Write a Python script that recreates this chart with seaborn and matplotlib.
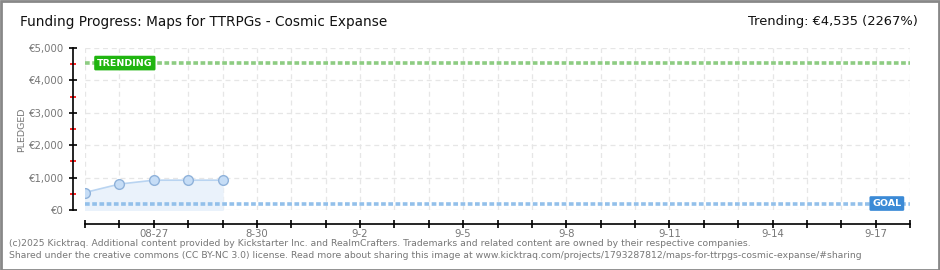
import matplotlib
matplotlib.use("Agg")
import matplotlib.pyplot as plt
import matplotlib.dates as mdates
from matplotlib.ticker import MultipleLocator, FuncFormatter
import seaborn as sns
import pandas as pd
import numpy as np

# ---- data ----
dates = ["2025-08-25", "2025-08-26", "2025-08-27", "2025-08-28", "2025-08-29"]
pledged = [540, 800, 920, 920, 920]
goal = 200
trending = 4535
x_start = "2025-08-25"
x_end = "2025-09-18"
tick_label_dates = ["2025-08-27", "2025-08-30", "2025-09-02", "2025-09-05", "2025-09-08",
                    "2025-09-11", "2025-09-14", "2025-09-17"]
tick_labels = ["08-27", "8-30", "9-2", "9-5", "9-8", "9-11", "9-14", "9-17"]
title = "Funding Progress: Maps for TTRPGs - Cosmic Expanse"
trend_text = "Trending: €4,535 (2267%)"
footer1 = "(c)2025 Kicktraq. Additional content provided by Kickstarter Inc. and RealmCrafters. Trademarks and related content are owned by their respective companies."
footer2 = "Shared under the creative commons (CC BY-NC 3.0) license. Read more about sharing this image at www.kicktraq.com/projects/1793287812/maps-for-ttrpgs-cosmic-expanse/#sharing"

df = pd.DataFrame({"date": pd.to_datetime(dates), "pledged": pledged})

sns.set_theme(style="white")
plt.rcParams["font.family"] = ["DejaVu Sans"]

W, H = 940, 270
fig = plt.figure(figsize=(W / 100, H / 100), dpi=100)
ax = fig.add_axes([85 / W, (H - 210) / H, (910 - 85) / W, (210 - 48) / H])

# grid
ax.set_xlim(pd.Timestamp(x_start), pd.Timestamp(x_end))
ax.set_ylim(0, 5000)
ax.xaxis.set_major_locator(mdates.DayLocator())
ax.yaxis.set_major_locator(MultipleLocator(1000))
ax.yaxis.set_minor_locator(MultipleLocator(500))
ax.grid(True, which="major", color="#e6e6e6", linestyle=(0, (4, 3)), linewidth=0.9)

# fill + line
ax.fill_between(df["date"], df["pledged"], 0, color="#eaf2fb", zorder=1)
sns.lineplot(data=df, x="date", y="pledged", ax=ax, color="#b9d4f1", linewidth=1.2,
             marker="o", markersize=7, markerfacecolor="#c6ddf6",
             markeredgecolor="#8fb2da", markeredgewidth=1, zorder=4)

# goal / trending lines
ax.axhline(goal, color="#93c0ea", linestyle=(0, (1.3, 0.7)), linewidth=2.6, zorder=3)
ax.axhline(trending, color="#8dcc82", linestyle=(0, (1.3, 0.7)), linewidth=2.6, zorder=3)

x0 = mdates.date2num(pd.Timestamp(x_start))
ax.text(x0 + 0.35, trending, "TRENDING", color="white", fontsize=6.8, fontweight="bold",
        va="center", ha="left", zorder=6,
        bbox=dict(boxstyle="round,pad=0.3,rounding_size=0.15", fc="#20b510", ec="none"))
x1 = mdates.date2num(pd.Timestamp(x_end))
ax.text(x1 - 0.25, goal, "GOAL", color="white", fontsize=6.8, fontweight="bold",
        va="center", ha="right", zorder=6,
        bbox=dict(boxstyle="round,pad=0.3,rounding_size=0.15", fc="#3b8ad6", ec="none"))

# spines
for s in ["top", "right"]:
    ax.spines[s].set_visible(False)
ax.spines["left"].set_position(("outward", 9))
ax.spines["bottom"].set_position(("outward", 10))
for s in ["left", "bottom"]:
    ax.spines[s].set_color("black")
    ax.spines[s].set_linewidth(1.2)

ax.tick_params(axis="y", which="major", direction="inout", length=6, width=1.2,
               color="black", labelsize=7.3, labelcolor="#777777", pad=3, left=True)
ax.tick_params(axis="y", which="minor", direction="inout", length=4, width=1.2,
               color="red", left=True)
ax.tick_params(axis="x", which="major", direction="inout", length=6, width=1.2,
               color="black", labelsize=7.3, labelcolor="#777777", pad=1, bottom=True)
ax.yaxis.set_major_formatter(FuncFormatter(lambda v, p: f"€{int(v):,}"))

tick_nums = [mdates.date2num(pd.Timestamp(d)) for d in tick_label_dates]
lab_map = dict(zip(tick_nums, tick_labels))
ax.xaxis.set_major_formatter(FuncFormatter(lambda v, p: lab_map.get(round(v), "")))

ax.set_xlabel("")
ax.set_ylabel("")
fig.text(22 / W, 1 - 130 / H, "PLEDGED", fontsize=6.8, color="#777777", rotation=90,
         ha="center", va="center")

# titles
fig.text(20 / W, 1 - 22 / H, title, fontsize=9.8, color="#111111", va="center", ha="left")
fig.text(918 / W, 1 - 22 / H, trend_text, fontsize=9.4, color="#111111", va="center",
         ha="right")
fig.text(9 / W, 1 - 243 / H, footer1, fontsize=6.65, color="#777777", va="center", ha="left")
fig.text(9 / W, 1 - 256 / H, footer2, fontsize=6.65, color="#777777", va="center", ha="left")

# frame
fig.patches.append(plt.Rectangle((0.5 / W, 0.5 / H), 1 - 1.5 / W, 1 - 1.5 / H,
                                 transform=fig.transFigure, fill=False,
                                 ec="#888888", lw=2))

fig.savefig("out.png", dpi=100)
